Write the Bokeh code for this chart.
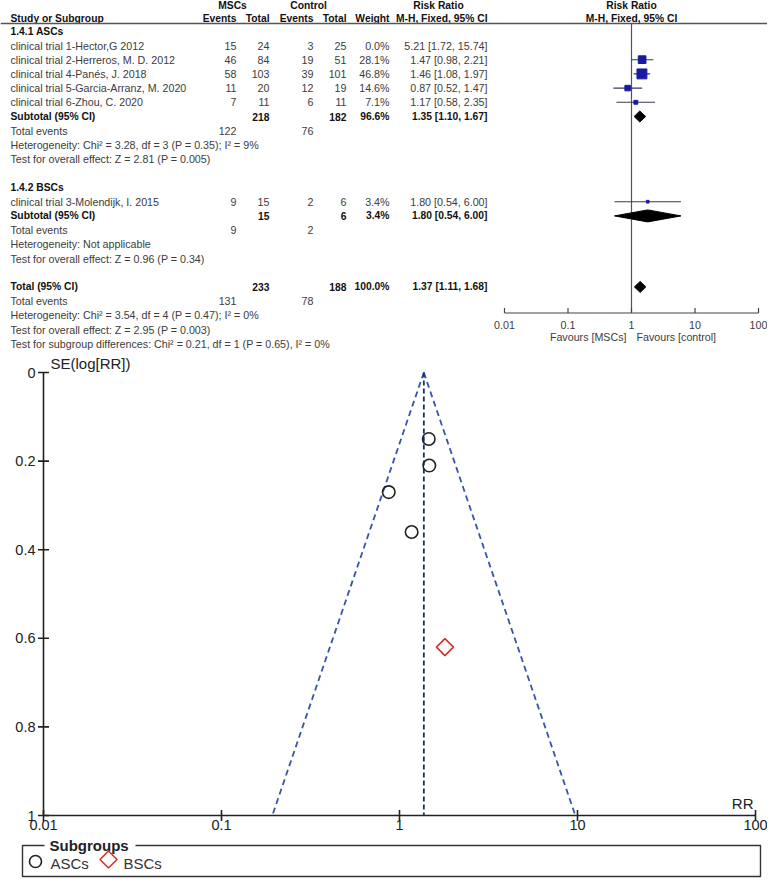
import numpy as np
from bokeh.plotting import figure
from bokeh.models import Range1d, LogScale
from bokeh.core.properties import value
from bokeh.embed import file_html
from bokeh.resources import INLINE

# ---------------- data ----------------
asc_study = ["clinical trial 1-Hector,G 2012", "clinical trial 2-Herreros, M. D. 2012",
             "clinical trial 4-Panés, J. 2018", "clinical trial 5-Garcia-Arranz, M. 2020",
             "clinical trial 6-Zhou, C. 2020"]
asc_msc_events = [15, 46, 58, 11, 7]
asc_msc_total = [24, 84, 103, 20, 11]
asc_ctl_events = [3, 19, 39, 12, 6]
asc_ctl_total = [25, 51, 101, 19, 11]
asc_weight = [0.0, 28.1, 46.8, 14.6, 7.1]
asc_rr = [5.21, 1.47, 1.46, 0.87, 1.17]
asc_lo = [1.72, 0.98, 1.08, 0.52, 0.58]
asc_hi = [15.74, 2.21, 1.97, 1.47, 2.35]

bsc_study = ["clinical trial 3-Molendijk, I. 2015"]
bsc_msc_events = [9]
bsc_msc_total = [15]
bsc_ctl_events = [2]
bsc_ctl_total = [6]
bsc_weight = [3.4]
bsc_rr = [1.80]
bsc_lo = [0.54]
bsc_hi = [6.00]

# subtotal / total: [msc_total, ctl_total, weight, rr, lo, hi, msc_events, ctl_events]
asc_sub = [218, 182, 96.6, 1.35, 1.10, 1.67, 122, 76]
bsc_sub = [15, 6, 3.4, 1.80, 0.54, 6.00, 9, 2]
all_tot = [233, 188, 100.0, 1.37, 1.11, 1.68, 131, 78]

asc_het = "Heterogeneity: Chi² = 3.28, df = 3 (P = 0.35); I² = 9%"
asc_test = "Test for overall effect: Z = 2.81 (P = 0.005)"
bsc_het = "Heterogeneity: Not applicable"
bsc_test = "Test for overall effect: Z = 0.96 (P = 0.34)"
tot_het = "Heterogeneity: Chi² = 3.54, df = 4 (P = 0.47); I² = 0%"
tot_test = "Test for overall effect: Z = 2.95 (P = 0.003)"
sub_test = "Test for subgroup differences: Chi² = 0.21, df = 1 (P = 0.65), I² = 0%"

forest_ticks = [0.01, 0.1, 1, 10, 100]
forest_tick_labels = ["0.01", "0.1", "1", "10", "100"]

# funnel plot (trial 1 with 0% weight not shown)
funnel_asc_rr = [1.47, 1.46, 0.87, 1.17]
funnel_asc_se = [0.21, 0.15, 0.27, 0.36]
funnel_bsc_rr = [1.80]
funnel_bsc_se = [0.62]
funnel_x_ticks = [0.01, 0.1, 1, 10, 100]
funnel_x_labels = ["0.01", "0.1", "1", "10", "100"]
funnel_y_ticks = [0, 0.2, 0.4, 0.6, 0.8, 1]
funnel_y_labels = ["0", "0.2", "0.4", "0.6", "0.8", "1"]
pooled_rr = 1.37

# ---------------- layout constants (pixels) ----------------
W, H = 767, 878
FONT = value("Liberation Sans")
TXT = "#3c3c3c"
BLD = "#111111"
AXC = "#222222"
FS = "10.7px"
FSB = "10.3px"

ROW0, STEP = 30.8, 14.2
def ry(i):
    return ROW0 + STEP * i

HDR1, HDR2, HLINE = 5.0, 18.0, 23.0
C_STUDY, C_EV1, C_TOT1, C_EV2, C_TOT2, C_WT, C_CI = 10, 236, 269, 313, 346, 389, 487
FX1, FDEC = 631.0, 63.5          # forest: pixel of RR=1, pixels per decade
AXY = 312.5
GX0, GDEC = 43.0, 178.0          # funnel: pixel of RR=0.01, pixels per decade
GY0, GY1 = 372.0, 815.0          # funnel: pixel of SE=0 and SE=1

p = figure(width=W, height=H, x_range=Range1d(0, W), y_range=Range1d(H, 0),
           x_axis_location=None, y_axis_location=None, toolbar_location=None,
           output_backend="svg", min_border=0, title=None)
p.outline_line_color = None
p.xgrid.grid_line_color = None
p.ygrid.grid_line_color = None
p.background_fill_color = "white"
p.border_fill_color = "white"

gk = (GY1 - GY0)
p.extra_x_ranges = {
    "rr": Range1d(10 ** ((0 - FX1) / FDEC), 10 ** ((W - FX1) / FDEC)),
    "fx": Range1d(10 ** (-2 - GX0 / GDEC), 10 ** (-2 + (W - GX0) / GDEC)),
}
p.extra_x_scales = {"rr": LogScale(), "fx": LogScale()}
p.extra_y_ranges = {"se": Range1d((H - GY0) / gk, -GY0 / gk)}

# ---------------- table texts ----------------
texts = {}
def add(x, y, t, bold=False, align="left"):
    d = texts.setdefault((bold, align), {"x": [], "y": [], "text": []})
    d["x"].append(x); d["y"].append(y); d["text"].append(t)

def ci(r, l, h):
    return "{:.2f} [{:.2f}, {:.2f}]".format(r, l, h)

add(232, HDR1, "MSCs", True, "center")
add(308, HDR1, "Control", True, "center")
add(438, HDR1, "Risk Ratio", True, "center")
add(C_STUDY, HDR2, "Study or Subgroup", True, "left")
for x, t in [(C_EV1, "Events"), (C_TOT1, "Total"), (C_EV2, "Events"), (C_TOT2, "Total"),
             (C_WT, "Weight"), (C_CI, "M-H, Fixed, 95% CI")]:
    add(x, HDR2, t, True, "right")

def study_rows(start, names, e1, t1, e2, t2, w, r, l, h):
    for k in range(len(names)):
        y = ry(start + k)
        add(C_STUDY, y, names[k])
        add(C_EV1, y, str(e1[k]), align="right")
        add(C_TOT1, y, str(t1[k]), align="right")
        add(C_EV2, y, str(e2[k]), align="right")
        add(C_TOT2, y, str(t2[k]), align="right")
        add(C_WT, y, "{:.1f}%".format(w[k]), align="right")
        add(C_CI, y, ci(r[k], l[k], h[k]), align="right")

def summary_rows(row, label, s, het, test):
    y = ry(row)
    add(C_STUDY, y, label, True)
    add(C_TOT1, y, str(s[0]), True, "right")
    add(C_TOT2, y, str(s[1]), True, "right")
    add(C_WT, y, "{:.1f}%".format(s[2]), True, "right")
    add(C_CI, y, ci(s[3], s[4], s[5]), True, "right")
    y = ry(row + 1)
    add(C_STUDY, y, "Total events")
    add(C_EV1, y, str(s[6]), align="right")
    add(C_EV2, y, str(s[7]), align="right")
    add(C_STUDY, ry(row + 2), het)
    add(C_STUDY, ry(row + 3), test)

add(C_STUDY, ry(0), "1.4.1 ASCs", True)
study_rows(1, asc_study, asc_msc_events, asc_msc_total, asc_ctl_events, asc_ctl_total,
           asc_weight, asc_rr, asc_lo, asc_hi)
summary_rows(6, "Subtotal (95% CI)", asc_sub, asc_het, asc_test)
add(C_STUDY, ry(11), "1.4.2 BSCs", True)
study_rows(12, bsc_study, bsc_msc_events, bsc_msc_total, bsc_ctl_events, bsc_ctl_total,
           bsc_weight, bsc_rr, bsc_lo, bsc_hi)
summary_rows(13, "Subtotal (95% CI)", bsc_sub, bsc_het, bsc_test)
summary_rows(18, "Total (95% CI)", all_tot, tot_het, tot_test)
add(C_STUDY, ry(22), sub_test)

for (bold, align), d in texts.items():
    p.text(x=d["x"], y=d["y"], text=d["text"], text_font=FONT,
           text_font_size=FSB if bold else FS,
           text_font_style="bold" if bold else "normal", text_align=align,
           text_baseline="middle", text_color=BLD if bold else TXT)

p.segment(x0=[0], y0=[HLINE], x1=[W], y1=[HLINE], line_color="#555555", line_width=1.3)

# ---------------- forest plot ----------------
p.text(x=[1, 1], y=[HDR1, HDR2], text=["Risk Ratio", "M-H, Fixed, 95% CI"], x_range_name="rr",
       text_font=FONT, text_font_size=FSB, text_font_style="bold", text_align="center",
       text_baseline="middle", text_color=BLD)
p.segment(x0=[1], x1=[1], y0=[HLINE], y1=[AXY], x_range_name="rr",
          line_color="#555555", line_width=1.2)

f_rr, f_lo, f_hi, f_y, f_w = [], [], [], [], []
for k in range(len(asc_rr)):
    if asc_weight[k] > 0:
        f_rr.append(asc_rr[k]); f_lo.append(asc_lo[k]); f_hi.append(asc_hi[k])
        f_y.append(ry(1 + k)); f_w.append(asc_weight[k])
for k in range(len(bsc_rr)):
    f_rr.append(bsc_rr[k]); f_lo.append(bsc_lo[k]); f_hi.append(bsc_hi[k])
    f_y.append(ry(12 + k)); f_w.append(bsc_weight[k])

p.segment(x0=f_lo, x1=f_hi, y0=f_y, y1=f_y, x_range_name="rr",
          line_color="#3a3a55", line_width=1.1)
p.scatter(x=f_rr, y=f_y, size=[1.45 * np.sqrt(w) for w in f_w], marker="square",
          x_range_name="rr", fill_color="#1a1aa0", line_color="#1a1aa0")

d_xs, d_ys = [], []
for s, row, h in [(asc_sub, 6, 5.5), (bsc_sub, 13, 6.0), (all_tot, 18, 5.5)]:
    y = ry(row)
    d_xs.append([s[4], s[3], s[5], s[3]])
    d_ys.append([y, y - h, y, y + h])
p.patches(xs=d_xs, ys=d_ys, x_range_name="rr", fill_color="black", line_color="black")

nt = len(forest_ticks)
p.segment(x0=[forest_ticks[0]], x1=[forest_ticks[-1]], y0=[AXY], y1=[AXY], x_range_name="rr",
          line_color="#444444", line_width=1.2)
p.segment(x0=forest_ticks, x1=forest_ticks, y0=[AXY] * nt, y1=[AXY - 5] * nt, x_range_name="rr",
          line_color="#444444", line_width=1.2)
p.text(x=forest_ticks, y=[AXY + 11.5] * nt, text=forest_tick_labels, x_range_name="rr",
       text_font=FONT, text_font_size=FS, text_align="center", text_baseline="middle",
       text_color=TXT)
p.text(x=[1], y=[AXY + 23.5], text=["Favours [MSCs]"], x_range_name="rr", x_offset=-5,
       text_font=FONT, text_font_size=FS, text_align="right", text_baseline="middle",
       text_color=TXT)
p.text(x=[1], y=[AXY + 23.5], text=["Favours [control]"], x_range_name="rr", x_offset=5,
       text_font=FONT, text_font_size=FS, text_align="left", text_baseline="middle",
       text_color=TXT)

# ---------------- funnel plot ----------------
G = dict(x_range_name="fx", y_range_name="se")
xmin, xmax = funnel_x_ticks[0], funnel_x_ticks[-1]
ymin, ymax = funnel_y_ticks[0], funnel_y_ticks[-1]
p.segment(x0=[xmin, xmin], y0=[ymin, ymax], x1=[xmin, xmax], y1=[ymax, ymax],
          line_color=AXC, line_width=1.6, **G)
p.scatter(x=[xmin] * len(funnel_y_ticks), y=funnel_y_ticks, marker="dash", size=11,
          line_color=AXC, line_width=1.6, **G)
p.scatter(x=funnel_x_ticks, y=[ymax] * len(funnel_x_ticks), marker="dash", angle=np.pi / 2,
          size=11, line_color=AXC, line_width=1.6, **G)
p.text(x=[xmin] * len(funnel_y_ticks), y=funnel_y_ticks, text=funnel_y_labels, x_offset=-8,
       text_font=FONT, text_font_size="14.5px", text_align="right", text_baseline="middle",
       text_color=AXC, **G)
p.text(x=funnel_x_ticks, y=[ymax] * len(funnel_x_ticks), text=funnel_x_labels, y_offset=4,
       text_font=FONT, text_font_size="14.5px", text_align="center", text_baseline="top",
       text_color=AXC, **G)
p.text(x=[xmin], y=[ymin], text=["SE(log[RR])"], x_offset=7, y_offset=-1,
       text_font=FONT, text_font_size="15px", text_align="left", text_baseline="bottom",
       text_color=AXC, **G)
p.text(x=[xmax], y=[ymax], text=["RR"], x_offset=-2, y_offset=-4,
       text_font=FONT, text_font_size="15px", text_align="right", text_baseline="bottom",
       text_color=AXC, **G)

z = 1.96
se_edge = [ymin, ymax]
left_x = [pooled_rr * np.exp(-z * s) for s in se_edge]
right_x = [pooled_rr * np.exp(z * s) for s in se_edge]
p.line(x=left_x, y=se_edge, line_color="#3556a8", line_width=1.8, line_dash="6 4", **G)
p.line(x=right_x, y=se_edge, line_color="#3556a8", line_width=1.8, line_dash="6 4", **G)
p.line(x=[pooled_rr, pooled_rr], y=se_edge, line_color="#1c2f70", line_width=1.8,
       line_dash="5 3", **G)

p.scatter(x=funnel_asc_rr, y=funnel_asc_se, marker="circle", size=12.5,
          fill_color=None, line_color=AXC, line_width=1.6, **G)
p.scatter(x=funnel_bsc_rr, y=funnel_bsc_se, marker="square", angle=np.pi / 4, size=12,
          fill_color=None, line_color="#d0342c", line_width=1.6, **G)

# ---------------- legend ----------------
BT, BB, BL, BR = 845, 876, 22, 760
p.multi_line(xs=[[44, BL, BL, BR, BR, 135]], ys=[[BT, BT, BB, BB, BT, BT]],
             line_color="#333333", line_width=1.4)
p.text(x=[49], y=[BT], text=["Subgroups"], text_font=FONT, text_font_size="15px",
       text_font_style="bold", text_align="left", text_baseline="middle", text_color=AXC)
p.scatter(x=[35], y=[861], marker="circle", size=12, fill_color=None,
          line_color=AXC, line_width=1.6)
p.scatter(x=[108], y=[859], marker="square", angle=np.pi / 4, size=12, fill_color=None,
          line_color="#d0342c", line_width=1.6)
p.text(x=[50, 123], y=[863, 863], text=["ASCs", "BSCs"], text_font=FONT, text_font_size="15px",
       text_align="left", text_baseline="middle", text_color="#333333")

open("out.html", "w").write(file_html(p, INLINE))
